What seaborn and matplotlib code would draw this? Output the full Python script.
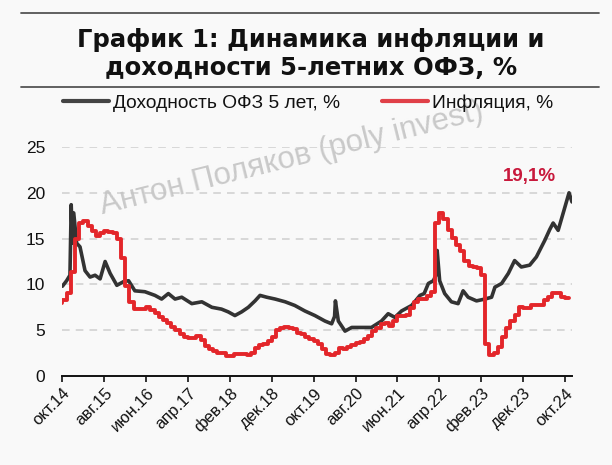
import numpy as np
import pandas as pd
import matplotlib
matplotlib.use("Agg")
import matplotlib.pyplot as plt
import seaborn as sns
from matplotlib.lines import Line2D

# ---------------- data ----------------
tick_labels = ['окт.14', 'авг.15', 'июн.16', 'апр.17', 'фев.18', 'дек.18', 'окт.19',
               'авг.20', 'июн.21', 'апр.22', 'фев.23', 'дек.23', 'окт.24']
tick_months = [0, 10, 20, 30, 40, 50, 60, 70, 80, 90, 100, 110, 120]  # months since Oct 2014

# CPI y/y, monthly, Sep 2014 .. Oct 2024 (value at month end)
inflation = [8.0, 8.3, 9.1, 11.4,
             15.0, 16.7, 16.9, 16.4, 15.8, 15.3, 15.6, 15.8, 15.7, 15.6, 15.0, 12.9,
             9.8, 8.1, 7.3, 7.3, 7.3, 7.5, 7.2, 6.9, 6.4, 6.1, 5.8, 5.4,
             5.0, 4.6, 4.3, 4.1, 4.1, 4.4, 3.9, 3.3, 3.0, 2.7, 2.5, 2.5,
             2.2, 2.2, 2.4, 2.4, 2.4, 2.3, 2.5, 3.1, 3.4, 3.5, 3.8, 4.3,
             5.0, 5.2, 5.3, 5.2, 5.1, 4.7, 4.6, 4.3, 4.0, 3.8, 3.5, 3.0,
             2.4, 2.3, 2.5, 3.1, 3.0, 3.2, 3.4, 3.6, 3.7, 4.0, 4.4, 4.9,
             5.2, 5.7, 5.8, 5.5, 6.0, 6.5, 6.5, 6.7, 7.4, 8.1, 8.4, 8.4,
             8.7, 9.2, 16.7, 17.8, 17.1, 15.9, 15.1, 14.3, 13.7, 12.6, 12.0, 11.9,
             11.8, 11.0, 3.5, 2.3, 2.5, 3.2, 4.3, 5.2, 6.0, 6.7, 7.5, 7.4,
             7.4, 7.7, 7.7, 7.8, 8.3, 8.6, 9.1, 9.1, 8.6, 8.5]
infl_t = np.arange(len(inflation))  # month-end, months since Oct 2014

# 5-year OFZ yield: time (months since Oct 2014) and value
ofz_t = [0.0, 1.0, 1.8, 2.1, 2.4, 2.7, 3.4, 4.2, 5.4, 6.6, 7.8, 9.0, 10.2, 11.4, 13.0,
         14.6, 15.8, 17.3, 19.7, 22.1, 23.7, 25.3, 26.9, 28.5, 30.9, 33.3, 35.7, 38.0,
         39.6, 41.2, 42.8, 44.4, 46.0, 47.2, 48.8, 50.8, 53.2, 55.5, 57.9, 60.3, 62.7,
         64.3, 65.0, 65.2, 65.9, 67.5, 69.1, 71.5, 73.8, 76.2, 77.8, 79.4, 81.0, 83.4,
         85.4, 86.4, 87.4, 88.6, 89.2, 89.5, 90.1, 91.3, 92.9, 94.5, 95.7, 96.9, 98.9,
         100.9, 102.5, 103.3, 104.9, 106.5, 108.0, 109.6, 111.6, 113.2, 115.2, 116.4,
         117.2, 118.4, 119.8, 121.0, 121.7]
ofz_yield = [9.8, 10.4, 11.0, 18.7, 14.5, 17.8, 14.5, 14.1, 11.5, 10.8, 11.0, 10.6, 12.5, 11.2, 9.9,
             10.3, 10.4, 9.3, 9.2, 8.8, 8.4, 9.0, 8.4, 8.6, 7.9, 8.1, 7.5, 7.3,
             7.0, 6.6, 7.0, 7.5, 8.2, 8.8, 8.6, 8.4, 8.1, 7.7, 7.1, 6.6, 6.0,
             5.7, 6.5, 8.2, 6.0, 4.9, 5.3, 5.3, 5.3, 6.0, 6.8, 6.4, 7.1, 7.7,
             8.8, 9.0, 10.1, 10.4, 11.0, 13.7, 10.4, 9.0, 8.1, 7.9, 9.3, 8.6, 8.2,
             8.4, 8.6, 9.7, 10.1, 11.2, 12.6, 11.9, 12.1, 13.0, 14.8, 16.0,
             16.7, 15.9, 18.1, 20.0, 19.0]

series_names = ['Доходность ОФЗ 5 лет, %', 'Инфляция, %']
last_label = '19,1%'
title_text = 'График 1: Динамика инфляции и\nдоходности 5-летних ОФЗ, %'
watermark = 'Антон Поляков (poly invest)'

# ---------------- style ----------------
sns.set_theme(style='white')
plt.rcParams['font.family'] = ['Liberation Sans', 'DejaVu Sans']
bg = '#f9f9f9'
c_black = '#333333'
c_red = '#e3262a'

fig = plt.figure(figsize=(6.12, 4.65), dpi=100, facecolor=bg)
ax = fig.add_axes([0.1013, 0.1914, 0.8333, 0.4925], facecolor=bg)

df_ofz = pd.DataFrame({'t': ofz_t, 'v': ofz_yield})
df_inf = pd.DataFrame({'t': infl_t, 'v': inflation})

sns.lineplot(data=df_ofz, x='t', y='v', ax=ax, color=c_black, linewidth=2.6,
             estimator=None, legend=False)
sns.lineplot(data=df_inf, x='t', y='v', ax=ax, color=c_red, linewidth=2.8,
             estimator=None, drawstyle='steps-pre', legend=False)

ax.set_xlim(-0.1, 121.7)
ax.set_ylim(0, 25)
ax.set_yticks([0, 5, 10, 15, 20, 25])
ax.set_xticks(tick_months)
ax.set_xticklabels(tick_labels, rotation=45, ha='right', va='top',
                   rotation_mode='anchor', fontsize=12)
ax.tick_params(axis='y', length=0, pad=12, labelsize=12.5, labelcolor='#111111')
ax.tick_params(axis='x', direction='out', length=4, width=1.2, color='#111111',
               pad=3, labelcolor='#111111')
ax.xaxis.set_ticks_position('bottom')
for yv in [5, 10, 15, 20, 25]:
    ax.axhline(yv, color='#cfcfcf', linestyle=(0, (5, 4)), linewidth=1.1, zorder=0)
ax.set_xlabel('')
ax.set_ylabel('')
for s in ['left', 'right', 'top']:
    ax.spines[s].set_visible(False)
ax.spines['bottom'].set_color('#111111')
ax.spines['bottom'].set_linewidth(1.4)

ax.text(111.6, 21.8, last_label, color='#c8193c', fontsize=13.5, fontweight='bold',
        ha='center', va='center')

# title and rules
fig.text(0.508, 0.884, title_text, ha='center', va='center', fontsize=17.5,
         fontweight='bold', family=['DejaVu Sans'], linespacing=1.22, color='#111111')
fig.add_artist(Line2D([0.034, 0.979], [0.972, 0.972], color='#555555', linewidth=1.3))
fig.add_artist(Line2D([0.034, 0.979], [0.813, 0.813], color='#555555', linewidth=1.3))

# legend
handles = [Line2D([], [], color='#444444', linewidth=3),
           Line2D([], [], color='#e04048', linewidth=3)]
fig.legend(handles, series_names, loc='center', bbox_to_anchor=(0.503, 0.778), ncol=2,
           frameon=False, fontsize=13.8, handlelength=2.4, handletextpad=0.2,
           columnspacing=2.2, labelcolor='#111111')

# watermark
fig.text(0.477, 0.658, watermark, rotation=14, ha='center', va='center',
         fontsize=22.5, color='#c4c4c4', alpha=0.9, zorder=5)

fig.savefig('out.png', dpi=100, facecolor=bg)
